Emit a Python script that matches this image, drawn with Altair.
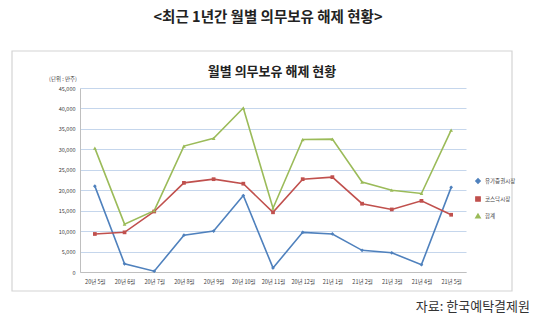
import altair as alt
import pandas as pd

months = ["20년 5월", "20년 6월", "20년 7월", "20년 8월", "20년 9월", "20년 10월",
          "20년 11월", "20년 12월", "21년 1월", "21년 2월", "21년 3월", "21년 4월", "21년 5월"]
kospi = [21000, 2000, 200, 9000, 10000, 18700, 1000, 9700, 9300, 5300, 4700, 1800, 20700]
kosdaq = [9300, 9700, 14800, 21800, 22700, 21600, 14600, 22700, 23200, 16700, 15300, 17400, 14000]
total = [30300, 11700, 15000, 30800, 32700, 40100, 15600, 32400, 32500, 22000, 20000, 19200, 34700]
series = ["유가증권시장", "코스닥시장", "합계"]
colors = ["#4F81BD", "#C0504D", "#9BBB59"]
shapes = ["diamond", "square", "triangle-up"]

main_title = "<최근 1년간 월별 의무보유 해제 현황>"
chart_title = "월별 의무보유 해제 현황"
unit_text = "(단위 : 만주)"
source_text = "자료: 한국예탁결제원"

FONT = "Noto Sans CJK KR"

rows = []
for name, vals in zip(series, [kospi, kosdaq, total]):
    for m, v in zip(months, vals):
        rows.append({"month": m, "series": name, "value": v})
df = pd.DataFrame(rows)

W, H = 386, 184
PL, PT = 80, 88

x = alt.X("month:N", sort=months, scale=alt.Scale(type="point", padding=0.5),
          axis=alt.Axis(title=None, labelAngle=0, labelFontSize=5.5, labelColor="#404040",
                        labelFont=FONT, ticks=False, domainColor="#BFBFBF", labelPadding=7))
y = alt.Y("value:Q", scale=alt.Scale(domain=[0, 45000]),
          axis=alt.Axis(title=None, values=list(range(0, 45001, 5000)), format=",.0f",
                        labelFontSize=5.5, labelColor="#404040", labelFont=FONT,
                        ticks=False, domainColor="#BFBFBF", gridColor="#C5D6EC",
                        gridWidth=1, labelPadding=5))
color = alt.Color("series:N", sort=series, scale=alt.Scale(domain=series, range=colors),
                  legend=alt.Legend(title=None, orient="none", legendX=395, legendY=90,
                                    labelFontSize=5.5, labelFont=FONT, labelColor="#404040",
                                    symbolSize=18, rowPadding=6, symbolStrokeWidth=1.5))
shape = alt.Shape("series:N", sort=series, scale=alt.Scale(domain=series, range=shapes),
                  legend=None)

lines = alt.Chart(df).mark_line(strokeWidth=1.6).encode(x=x, y=y, color=color)
points = alt.Chart(df).mark_point(filled=True, size=14, opacity=1).encode(
    x=x, y=y, color=alt.Color("series:N", sort=series,
                              scale=alt.Scale(domain=series, range=colors), legend=None),
    shape=shape)

box = alt.Chart(pd.DataFrame({"a": [0]})).mark_rect(
    fill=None, stroke="#D4D4D4", strokeWidth=1.2).encode(
    x=alt.value(12 - PL), x2=alt.value(512 - PL), y=alt.value(51 - PT), y2=alt.value(291 - PT))

def txt(s, xpos, ypos, size, bold=False, align="center", color="#222222"):
    return alt.Chart(pd.DataFrame({"t": [s]})).mark_text(
        fontSize=size, font=FONT, fontWeight="bold" if bold else "normal",
        align=align, baseline="middle", color=color).encode(
        text="t:N", x=alt.value(xpos - PL), y=alt.value(ypos - PT))

t1 = txt(main_title, 268, 18, 14.5, bold=True)
t2 = txt(chart_title, 272, 72, 13, bold=True)
t3 = txt(unit_text, 63, 79, 5.5, color="#404040")
t4 = txt(source_text, 530, 307, 13, align="right", color="#333333")

chart = alt.layer(box, lines, points, t1, t2, t3, t4).properties(
    width=W, height=H,
    autosize=alt.AutoSizeParams(type="none"),
    padding={"left": PL, "top": PT, "right": 540 - PL - W, "bottom": 321 - PT - H},
    background="white",
).configure_view(stroke=None)

chart.save("out.html", embed_options={"renderer": "svg", "actions": False})
